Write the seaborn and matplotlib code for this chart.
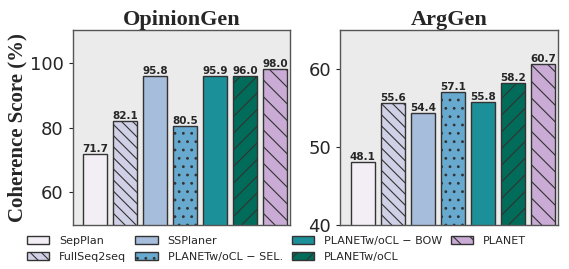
import pandas as pd
import matplotlib.pyplot as plt
import matplotlib.patches as mpatches
import seaborn as sns

methods = ["SepPlan", "FullSeq2seq", "SSPlaner", "PLANETw/oCL − SEL.",
           "PLANETw/oCL − BOW", "PLANETw/oCL", "PLANET"]
opinion_scores = [71.7, 82.1, 95.8, 80.5, 95.9, 96.0, 98.0]
arg_scores = [48.1, 55.6, 54.4, 57.1, 55.8, 58.2, 60.7]
colors = ["#f3eef6", "#d0d1e6", "#a6bddb", "#67a9cf", "#1c9099", "#016c59", "#c9abd5"]
hatches = ["", "\\\\\\", "", "..", "", "//", "\\\\"]

sns.set_style("white", {"axes.facecolor": "#ebebeb", "axes.edgecolor": "#555555"})
plt.rcParams["hatch.linewidth"] = 0.8

fig = plt.figure(figsize=(5.69, 2.69), dpi=100)
ax1 = fig.add_axes([0.128, 0.164, 0.382, 0.724])
ax2 = fig.add_axes([0.598, 0.164, 0.383, 0.724])

panels = [(ax1, opinion_scores, "OpinionGen", (50, 110), [60, 80, 100]),
          (ax2, arg_scores, "ArgGen", (40, 65), [40, 50, 60])]

for ax, scores, title, ylim, yticks in panels:
    df = pd.DataFrame({"method": methods, "score": scores})
    sns.barplot(data=df, x="method", y="score", hue="method", palette=colors,
                saturation=1, dodge=False, legend=False, width=0.8, ax=ax)
    for patch, h in zip(ax.patches, hatches):
        patch.set_hatch(h)
        patch.set_edgecolor("#333333")
        patch.set_linewidth(1.0)
    for patch, v in zip(ax.patches, scores):
        ax.text(patch.get_x() + patch.get_width() / 2, v, f"{v:.1f}",
                ha="center", va="bottom", fontsize=7.5, fontweight="bold")
    ax.set_xlim(-0.75, 6.5)
    ax.set_ylim(*ylim)
    ax.set_yticks(yticks)
    ax.set_xticks([])
    ax.set_xlabel("")
    ax.set_ylabel("")
    ax.tick_params(axis="y", labelsize=13, left=True, length=3)
    ax.set_title(title, fontsize=16, fontweight="bold", family="Liberation Serif", pad=3)
    for s in ax.spines.values():
        s.set_color("#555555")
        s.set_linewidth(1.0)

ax1.set_ylabel("Coherence Score (%)", fontsize=15, fontweight="bold",
               family="Liberation Serif", labelpad=2)

handles = [mpatches.Patch(facecolor=c, edgecolor="#333333", hatch=h, label=m)
           for m, c, h in zip(methods, colors, hatches)]
fig.legend(handles=handles, ncol=4, loc="lower left", bbox_to_anchor=(0.03, -0.01),
           frameon=False, fontsize=8, handlelength=2.0, handleheight=0.8,
           columnspacing=0.8, handletextpad=0.9, labelspacing=0.5)

fig.savefig("out.png", dpi=100)
